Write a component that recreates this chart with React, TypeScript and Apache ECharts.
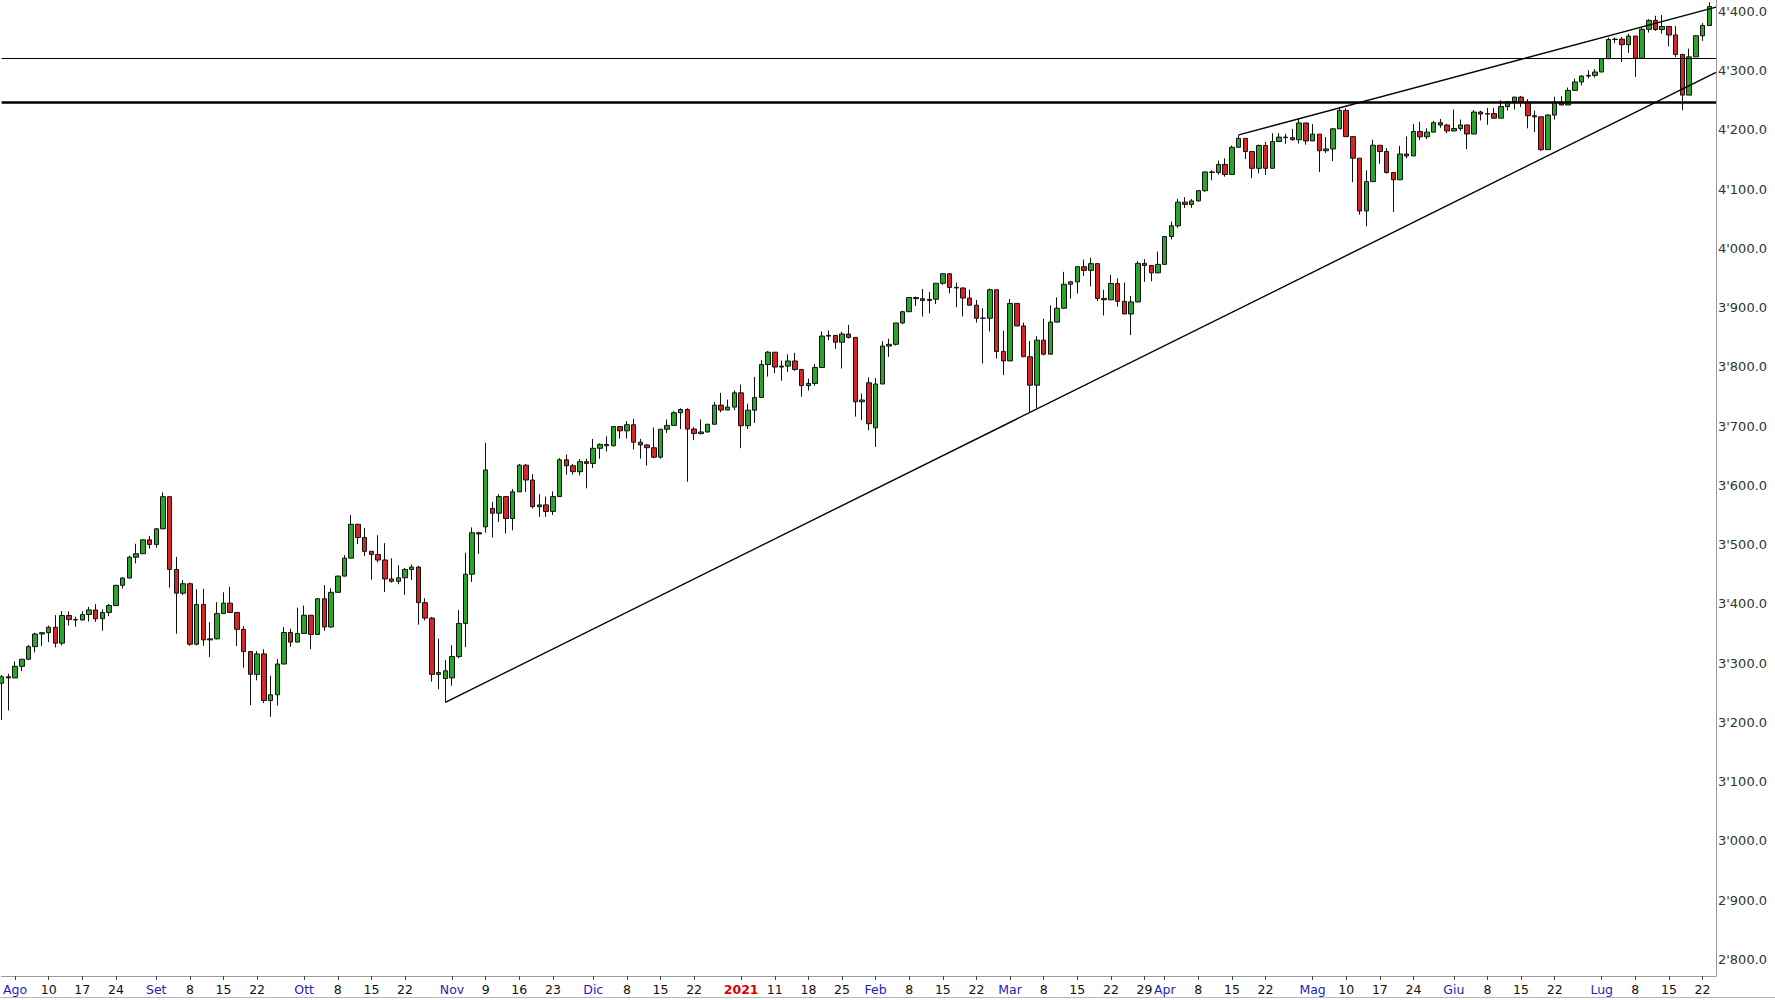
import React, { useEffect, useRef } from "react";
import * as echarts from "echarts";

// trading sessions (vendor series, includes US holiday sessions)
const dates = [
  "2020-07-30","2020-07-31",
  "2020-08-03","2020-08-04","2020-08-05","2020-08-06","2020-08-07","2020-08-10","2020-08-11","2020-08-12","2020-08-13","2020-08-14","2020-08-17","2020-08-18","2020-08-19","2020-08-20","2020-08-21","2020-08-24","2020-08-25","2020-08-26","2020-08-27","2020-08-28","2020-08-31",
  "2020-09-01","2020-09-02","2020-09-03","2020-09-04","2020-09-07","2020-09-08","2020-09-09","2020-09-10","2020-09-11","2020-09-14","2020-09-15","2020-09-16","2020-09-17","2020-09-18","2020-09-21","2020-09-22","2020-09-23","2020-09-24","2020-09-25","2020-09-28","2020-09-29","2020-09-30",
  "2020-10-01","2020-10-02","2020-10-05","2020-10-06","2020-10-07","2020-10-08","2020-10-09","2020-10-12","2020-10-13","2020-10-14","2020-10-15","2020-10-16","2020-10-19","2020-10-20","2020-10-21","2020-10-22","2020-10-23","2020-10-26","2020-10-27","2020-10-28","2020-10-29","2020-10-30",
  "2020-11-02","2020-11-03","2020-11-04","2020-11-05","2020-11-06","2020-11-09","2020-11-10","2020-11-11","2020-11-12","2020-11-13","2020-11-16","2020-11-17","2020-11-18","2020-11-19","2020-11-20","2020-11-23","2020-11-24","2020-11-25","2020-11-26","2020-11-27","2020-11-30",
  "2020-12-01","2020-12-02","2020-12-03","2020-12-04","2020-12-07","2020-12-08","2020-12-09","2020-12-10","2020-12-11","2020-12-14","2020-12-15","2020-12-16","2020-12-17","2020-12-18","2020-12-21","2020-12-22","2020-12-23","2020-12-24","2020-12-28","2020-12-29","2020-12-30","2020-12-31",
  "2021-01-04","2021-01-05","2021-01-06","2021-01-07","2021-01-08","2021-01-11","2021-01-12","2021-01-13","2021-01-14","2021-01-15","2021-01-18","2021-01-19","2021-01-20","2021-01-21","2021-01-22","2021-01-25","2021-01-26","2021-01-27","2021-01-28","2021-01-29",
  "2021-02-01","2021-02-02","2021-02-03","2021-02-04","2021-02-05","2021-02-08","2021-02-09","2021-02-10","2021-02-11","2021-02-12","2021-02-15","2021-02-16","2021-02-17","2021-02-18","2021-02-19","2021-02-22","2021-02-23","2021-02-24","2021-02-25","2021-02-26",
  "2021-03-01","2021-03-02","2021-03-03","2021-03-04","2021-03-05","2021-03-08","2021-03-09","2021-03-10","2021-03-11","2021-03-12","2021-03-15","2021-03-16","2021-03-17","2021-03-18","2021-03-19","2021-03-22","2021-03-23","2021-03-24","2021-03-25","2021-03-26","2021-03-29","2021-03-30","2021-03-31",
  "2021-04-01","2021-04-02","2021-04-05","2021-04-06","2021-04-07","2021-04-08","2021-04-09","2021-04-12","2021-04-13","2021-04-14","2021-04-15","2021-04-16","2021-04-19","2021-04-20","2021-04-21","2021-04-22","2021-04-23","2021-04-26","2021-04-27","2021-04-28","2021-04-29","2021-04-30",
  "2021-05-03","2021-05-04","2021-05-05","2021-05-06","2021-05-07","2021-05-10","2021-05-11","2021-05-12","2021-05-13","2021-05-14","2021-05-17","2021-05-18","2021-05-19","2021-05-20","2021-05-21","2021-05-24","2021-05-25","2021-05-26","2021-05-27","2021-05-28","2021-05-31",
  "2021-06-01","2021-06-02","2021-06-03","2021-06-04","2021-06-07","2021-06-08","2021-06-09","2021-06-10","2021-06-11","2021-06-14","2021-06-15","2021-06-16","2021-06-17","2021-06-18","2021-06-21","2021-06-22","2021-06-23","2021-06-24","2021-06-25","2021-06-28","2021-06-29","2021-06-30",
  "2021-07-01","2021-07-02","2021-07-05","2021-07-06","2021-07-07","2021-07-08","2021-07-09","2021-07-12","2021-07-13","2021-07-14","2021-07-15","2021-07-16","2021-07-19","2021-07-20","2021-07-21","2021-07-22","2021-07-23",
];
const extraCategory = "2021-07-26";

const closes = [
  3277, 3275,
  3294.61, 3306.51, 3327.77, 3349.16, 3351.28, 3360.47, 3333.69, 3380.35, 3373.43, 3372.85, 3381.99, 3389.78, 3374.85, 3385.51, 3397.16, 3431.28, 3443.62, 3478.73, 3484.55, 3508.01, 3500.31,
  3526.65, 3580.84, 3458, 3418, 3434, 3331.84, 3398.96, 3339.19, 3340.97, 3383.54, 3401.2, 3385.49, 3357.01, 3319.47, 3281.06, 3315.57, 3236.92, 3246.59, 3298.46, 3351.6, 3335.47, 3350,
  3380.8, 3348.42, 3408.6, 3360.97, 3419.44, 3446.83, 3477.14, 3534.22, 3511.93, 3488.67, 3483.34, 3474, 3442, 3438, 3444, 3458, 3462, 3402, 3376, 3281, 3284, 3287,
  3311, 3367, 3450, 3520, 3518, 3626, 3553, 3581, 3544, 3589, 3634, 3609, 3564, 3567, 3556, 3581, 3643, 3633, 3623, 3640, 3637,
  3662.45, 3669.01, 3666.72, 3699.12, 3691.96, 3702.25, 3672.82, 3668.1, 3663.46, 3647.49, 3694.62, 3701.17, 3722.48, 3728, 3694.92, 3687.26, 3690.01, 3703.06, 3735.36, 3727.04, 3732.04, 3756.07,
  3700.65, 3726.86, 3748.14, 3803.79, 3824.68, 3799.61, 3801.19, 3809.84, 3795.54, 3768.25, 3772, 3798.91, 3851.85, 3853.07, 3841.47, 3855.36, 3849.62, 3741, 3744, 3704,
  3771, 3835, 3838, 3874, 3893, 3917, 3915, 3912, 3914, 3941, 3957, 3934, 3933, 3916, 3904, 3882, 3882, 3930, 3826, 3810,
  3907, 3869, 3817, 3769, 3845, 3821.35, 3875.44, 3898.81, 3939.34, 3943.34, 3968.94, 3962.71, 3974.12, 3915.46, 3913.1, 3940.59, 3910.52, 3889.14, 3909.52, 3974.54, 3971.09, 3958.55, 3972.89,
  4019.87, 4038, 4077.91, 4073.94, 4079.95, 4097.17, 4128.8, 4127.99, 4141.59, 4124.66, 4170.42, 4185.47, 4163.26, 4134.94, 4173.42, 4134.98, 4180.17, 4187.62, 4186.72, 4183.18, 4211.47, 4181.17,
  4192.66, 4164.66, 4167.59, 4201.62, 4232.6, 4188.43, 4152.1, 4063.04, 4112.5, 4173.85, 4163.29, 4127.83, 4115.68, 4159.12, 4155.86, 4197.05, 4188.13, 4195.99, 4212, 4208, 4198,
  4202.04, 4208.12, 4192.85, 4229.89, 4226.52, 4227.26, 4219.55, 4239.18, 4247.44, 4255.15, 4246.59, 4223.7, 4221.86, 4166.45, 4224.79, 4246.44, 4241.84, 4266.49, 4280.7, 4290.61, 4291.8, 4297.5,
  4319.94, 4352.34, 4353, 4343.54, 4358.13, 4320.82, 4369.55, 4384.63, 4369.21, 4374.3, 4360.03, 4327.16, 4258.49, 4323.06, 4358.69, 4376, 4408,
];

const opens = [
  3266, 3277,
  3275, 3294.61, 3306.51, 3327.77, 3349.16, 3351.28, 3360.47, 3333.69, 3380.35, 3373.43, 3372.85, 3381.99, 3389.78, 3374.85, 3385.51, 3397.16, 3431.28, 3443.62, 3478.73, 3484.55, 3508.01,
  3500.31, 3526.65, 3580.84, 3458, 3418, 3434, 3331.84, 3398.96, 3339.19, 3340.97, 3383.54, 3401.2, 3385.49, 3357.01, 3319.47, 3281.06, 3315.57, 3236.92, 3246.59, 3298.46, 3351.6, 3335.47,
  3350, 3380.8, 3348.42, 3408.6, 3360.97, 3419.44, 3446.83, 3477.14, 3534.22, 3511.93, 3488.67, 3483.34, 3474, 3442, 3438, 3444, 3458, 3462, 3402, 3376, 3281, 3274,
  3275, 3311, 3367, 3450, 3520, 3530, 3561, 3553, 3581, 3544, 3589, 3634, 3609, 3564, 3567, 3556, 3581, 3643, 3633, 3623, 3640,
  3637, 3662.45, 3669.01, 3666.72, 3699.12, 3691.96, 3702.25, 3672.82, 3668.1, 3663.46, 3647.49, 3694.62, 3701.17, 3722.48, 3728, 3694.92, 3687.26, 3690.01, 3703.06, 3735.36, 3727.04, 3732.04,
  3756.07, 3700.65, 3726.86, 3748.14, 3803.79, 3824.68, 3799.61, 3801.19, 3809.84, 3795.54, 3768.25, 3772, 3798.91, 3851.85, 3853.07, 3841.47, 3855.36, 3849.62, 3741, 3773,
  3697, 3771, 3835, 3838, 3874, 3893, 3917, 3915, 3912, 3914, 3941, 3957, 3934, 3933, 3916, 3904, 3882, 3882, 3930, 3826,
  3810, 3907, 3869, 3817, 3769, 3845, 3821.35, 3875.44, 3898.81, 3939.34, 3943.34, 3968.94, 3962.71, 3974.12, 3915.46, 3913.1, 3940.59, 3910.52, 3889.14, 3909.52, 3974.54, 3971.09, 3958.55,
  3972.89, 4019.87, 4038, 4077.91, 4073.94, 4079.95, 4097.17, 4128.8, 4127.99, 4141.59, 4124.66, 4170.42, 4185.47, 4163.26, 4134.94, 4173.42, 4134.98, 4180.17, 4187.62, 4186.72, 4183.18, 4211.47,
  4181.17, 4192.66, 4164.66, 4167.59, 4201.62, 4232.6, 4188.43, 4152.1, 4063.04, 4112.5, 4173.85, 4163.29, 4127.83, 4115.68, 4159.12, 4155.86, 4197.05, 4188.13, 4195.99, 4212, 4208,
  4198, 4202.04, 4208.12, 4192.85, 4229.89, 4226.52, 4227.26, 4219.55, 4239.18, 4247.44, 4255.15, 4246.59, 4223.7, 4221.86, 4166.45, 4224.79, 4246.44, 4241.84, 4266.49, 4280.7, 4290.61, 4291.8,
  4297.5, 4319.94, 4352.34, 4353, 4343.54, 4358.13, 4320.82, 4369.55, 4384.63, 4369.21, 4374.3, 4360.03, 4327.16, 4258.49, 4323.06, 4358.69, 4376,
];

const highs = [
  3280, 3282,
  3302.73, 3306.84, 3330.77, 3351.03, 3352.54, 3363.29, 3381.01, 3387.89, 3387.24, 3378.51, 3387.59, 3395.06, 3399.54, 3390.8, 3399.96, 3432.09, 3444.21, 3481.07, 3501.38, 3509.23, 3514.77,
  3528.03, 3588.11, 3580.84, 3479.15, 3440, 3436, 3424.77, 3425.55, 3368.95, 3402.93, 3419.48, 3428.92, 3385.49, 3362.27, 3320, 3320.31, 3323.35, 3278.7, 3306.88, 3360.74, 3357.92, 3393.56,
  3397.18, 3381, 3409.57, 3431.56, 3426.26, 3447.28, 3482.34, 3549.85, 3535, 3527.94, 3489.08, 3515.76, 3502.42, 3476.93, 3464.86, 3460.53, 3466.46, 3464, 3409.51, 3378, 3341.05, 3304.93,
  3330.14, 3389.49, 3486.25, 3529.05, 3521.58, 3672, 3572, 3585, 3581, 3593.66, 3636, 3636, 3619.09, 3585.22, 3581.23, 3589.81, 3646, 3652, 3636, 3644.31, 3645,
  3678.45, 3671, 3682.73, 3699.2, 3700, 3708.45, 3712.39, 3678.49, 3670, 3697.61, 3695.29, 3711.27, 3725.12, 3730, 3730, 3698.26, 3711.24, 3703.82, 3740.51, 3756.12, 3744.63, 3760.2,
  3769.99, 3737.83, 3783.04, 3811.55, 3826.69, 3824.68, 3810.78, 3820.96, 3823.6, 3795.54, 3780, 3804.53, 3859.75, 3861.45, 3853.07, 3859.23, 3870.9, 3849.62, 3755, 3782,
  3781, 3843.09, 3847.51, 3872.42, 3894.56, 3915.77, 3918.35, 3931.5, 3925.99, 3937.23, 3958, 3958, 3942, 3934, 3930.41, 3913, 3899, 3932, 3930, 3861.08,
  3914.5, 3906.41, 3874.47, 3843.67, 3851.69, 3881.06, 3903.76, 3917.35, 3960.27, 3944.99, 3970.08, 3981.04, 3983.87, 3974, 3930.12, 3955.31, 3949.13, 3942.08, 3919.54, 3978.19, 3981.83, 3971.09, 3994.41,
  4020.63, 4045, 4083.42, 4086.23, 4083.13, 4098.19, 4129.48, 4131.76, 4148, 4151.69, 4173.49, 4191.31, 4185.47, 4163.26, 4175.02, 4179.57, 4194.17, 4194.19, 4193.35, 4201.53, 4218.78, 4211.47,
  4209.39, 4192.66, 4187.72, 4202.7, 4238.04, 4236.39, 4188.43, 4152.1, 4131.58, 4183.13, 4173.85, 4169.15, 4127.83, 4172.8, 4188.72, 4209.52, 4213.42, 4202.61, 4215, 4218.36, 4210,
  4234.12, 4217.37, 4208.12, 4233.45, 4232.34, 4236.74, 4237.09, 4249.74, 4248.38, 4255.59, 4257.16, 4251.89, 4232.29, 4221.86, 4226.24, 4255.84, 4256.6, 4271.28, 4286.12, 4292.14, 4300.52, 4302.43,
  4320.66, 4355.43, 4356, 4356.46, 4361.88, 4358.13, 4371.6, 4386.68, 4392.37, 4393.68, 4374.3, 4375.09, 4327.16, 4336.84, 4359.7, 4380, 4415.18,
];

const lows = [
  3204, 3220,
  3284.53, 3286.37, 3306, 3318.14, 3328.72, 3335.44, 3326.44, 3330, 3363.35, 3361.64, 3372, 3370.15, 3369.66, 3354.69, 3379.31, 3396, 3425.84, 3443, 3468.35, 3484.32, 3493.25,
  3494.6, 3526, 3427.41, 3349.63, 3415, 3329.27, 3330, 3329.25, 3310.47, 3340, 3383, 3384.45, 3328.82, 3292.4, 3229.1, 3270.95, 3232.57, 3209.45, 3228.44, 3298, 3327.54, 3335,
  3361.39, 3323.69, 3348, 3354.54, 3360, 3419, 3446, 3477, 3500.86, 3480.55, 3440.89, 3470, 3419.93, 3435.65, 3433.06, 3415.34, 3440.45, 3364.86, 3372, 3268.89, 3256, 3233.94,
  3262, 3308, 3327, 3437, 3484.34, 3520, 3512, 3538, 3518.58, 3524, 3589, 3589, 3561, 3547, 3547, 3550, 3581, 3617.76, 3618, 3617, 3595,
  3629, 3644.84, 3657.17, 3666, 3678.88, 3678.83, 3660.54, 3645.18, 3633.4, 3645.84, 3645, 3688.57, 3701, 3695, 3606, 3676.16, 3686, 3689.32, 3703, 3723.31, 3727, 3726.88,
  3662.71, 3695.07, 3705.34, 3748, 3783.6, 3789.02, 3776.51, 3791.5, 3792.86, 3749.62, 3760, 3768, 3798, 3845.05, 3830.41, 3797.16, 3847.78, 3716, 3710, 3693,
  3665, 3771, 3816.68, 3836, 3872, 3892.59, 3902.64, 3884.94, 3890.39, 3905.78, 3938, 3923.85, 3900.43, 3885.03, 3903.07, 3874.71, 3805.59, 3859.6, 3814.04, 3786,
  3810, 3868.57, 3818.86, 3723.34, 3730.19, 3819.25, 3821, 3875, 3898, 3915.21, 3923.54, 3953.44, 3935.74, 3910.86, 3886.75, 3913, 3901.57, 3889.07, 3853.5, 3909, 3943.25, 3944.35, 3958,
  3972, 4015, 4034.44, 4068.14, 4068.31, 4079, 4095.51, 4114.82, 4124.43, 4120.87, 4124, 4170.42, 4150.47, 4118.38, 4126.35, 4123.69, 4134.98, 4180, 4176.22, 4181.78, 4176.81, 4174.85,
  4181, 4128.59, 4160.94, 4147.33, 4201.62, 4188.13, 4111.53, 4056.88, 4037, 4112.5, 4142.69, 4125.99, 4061.41, 4115.68, 4151.72, 4155.86, 4182.52, 4184.11, 4195.99, 4203.57, 4194,
  4197.59, 4198.27, 4167.21, 4192.85, 4215.66, 4208.41, 4218.74, 4219.55, 4232.25, 4234.07, 4238.35, 4202.45, 4196.05, 4164.4, 4166.45, 4217.27, 4241.43, 4241.84, 4266.49, 4274.67, 4287.04, 4287.96,
  4297.5, 4319.94, 4346, 4314.37, 4329.79, 4289.37, 4320.82, 4364.03, 4366.92, 4362.36, 4340.7, 4322.53, 4233.13, 4258.49, 4323.06, 4350.06, 4376,
];

// x-axis tick labels
const tickDates = [
  "2020-08-03","2020-08-10","2020-08-17","2020-08-24","2020-09-01","2020-09-08","2020-09-15","2020-09-22",
  "2020-10-01","2020-10-08","2020-10-15","2020-10-22","2020-11-02","2020-11-09","2020-11-16","2020-11-23",
  "2020-12-01","2020-12-08","2020-12-15","2020-12-22","2021-01-04","2021-01-11","2021-01-18","2021-01-25",
  "2021-02-01","2021-02-08","2021-02-15","2021-02-22","2021-03-01","2021-03-08","2021-03-15","2021-03-22","2021-03-29",
  "2021-04-01","2021-04-08","2021-04-15","2021-04-22","2021-05-03","2021-05-10","2021-05-17","2021-05-24",
  "2021-06-01","2021-06-08","2021-06-15","2021-06-22","2021-07-01","2021-07-08","2021-07-15","2021-07-22",
];
const tickTexts = [
  "Ago","10","17","24","Set","8","15","22",
  "Ott","8","15","22","Nov","9","16","23",
  "Dic","8","15","22","2021","11","18","25",
  "Feb","8","15","22","Mar","8","15","22","29",
  "Apr","8","15","22","Mag","10","17","24",
  "Giu","8","15","22","Lug","8","15","22",
];
const monthNames = ["Ago","Set","Ott","Nov","Dic","Feb","Mar","Apr","Mag","Giu","Lug"];
const yearNames = ["2021"];

// y-axis ticks
const yTicks = [2800, 2900, 3000, 3100, 3200, 3300, 3400, 3500, 3600, 3700, 3800, 3900, 4000, 4100, 4200, 4300, 4400];
const yMin = 2772;
const yMax = 4419;

// drawn horizontal levels and trend lines
const levelThin = 4320;
const levelThick = 4246;
const supportLine = [["2020-10-30", 3233.94], [extraCategory, 4297]];
const resistanceLine = [["2021-04-16", 4191.31], [extraCategory, 4407]];

const FONT = "DejaVu Sans";

function fmtY(v: number) {
  const s = v.toFixed(1);
  const [i, d] = s.split(".");
  return i.replace(/\B(?=(\d{3})+(?!\d))/g, "'") + "." + d;
}

export default function App() {
  const ref = useRef<HTMLDivElement>(null);
  useEffect(() => {
    if (!ref.current) return;
    const chart = echarts.init(ref.current, undefined, { renderer: "svg" });
    const tickMap: Record<string, string> = {};
    tickDates.forEach((d, i) => (tickMap[d] = tickTexts[i]));
    const categories = [...dates, extraCategory];
    const candleData = dates.map((_, i) => {
      const o = opens[i];
      const c = closes[i];
      const h = Math.max(highs[i], o, c);
      const l = Math.min(lows[i], o, c);
      return [o, c, l, h];
    });
    const showTick = (_idx: number, value: string) => tickMap[value] !== undefined;
    chart.setOption({
      animation: false,
      backgroundColor: "#ffffff",
      grid: { left: 0, right: 59, top: 0, bottom: 24, containLabel: false },
      graphic: [
        {
          type: "line",
          shape: { x1: 0, y1: 997.5, x2: 1775, y2: 997.5 },
          style: { stroke: "#b8b8b8", lineWidth: 1 },
          silent: true,
        },
      ],
      xAxis: {
        type: "category",
        data: categories,
        boundaryGap: false,
        axisLine: { show: true, lineStyle: { color: "#9a9a9a", width: 1 } },
        axisTick: { show: true, interval: showTick, length: 4, lineStyle: { color: "#444" } },
        axisLabel: {
          show: true,
          interval: showTick,
          margin: 7,
          fontFamily: FONT,
          fontSize: 12.5,
          formatter: (value: string) => {
            const t = tickMap[value];
            if (t === undefined) return "";
            if (yearNames.includes(t)) return "{y|" + t + "}";
            if (monthNames.includes(t)) return "{m|" + t + "}";
            return "{d|" + t + "}";
          },
          rich: {
            m: { color: "#1e1eb4", fontFamily: FONT, fontSize: 12.5 },
            y: { color: "#e00000", fontFamily: FONT, fontSize: 12.5, fontWeight: "bold" },
            d: { color: "#111111", fontFamily: FONT, fontSize: 12.5 },
          },
        },
        splitLine: { show: false },
      },
      yAxis: {
        type: "value",
        position: "right",
        min: yMin,
        max: yMax,
        scale: true,
        splitLine: { show: false },
        axisLine: { show: true, lineStyle: { color: "#9a9a9a", width: 1 } },
        axisTick: { show: false, customValues: yTicks },
        axisLabel: {
          show: true,
          customValues: yTicks,
          margin: 2,
          fontFamily: FONT,
          fontSize: 13,
          color: "#333333",
          formatter: (v: number) => fmtY(v),
        },
      },
      series: [
        {
          type: "candlestick",
          data: candleData,
          barWidth: 5,
          itemStyle: {
            color: "#2aa52a",
            color0: "#d42626",
            borderColor: "#111111",
            borderColor0: "#111111",
            borderWidth: 1,
          },
          emphasis: { disabled: true },
          markLine: {
            silent: true,
            symbol: ["none", "none"],
            label: { show: false },
            emphasis: { disabled: true },
            lineStyle: { color: "#000000", type: "solid", width: 1.4 },
            data: [
              { yAxis: levelThin, lineStyle: { color: "#000", width: 1, type: "solid" } },
              { yAxis: levelThick, lineStyle: { color: "#000", width: 2.5, type: "solid" } },
              [
                { coord: supportLine[0] },
                { coord: supportLine[1] },
              ],
              [
                { coord: resistanceLine[0] },
                { coord: resistanceLine[1] },
              ],
            ],
          },
        },
      ],
    });
    return () => chart.dispose();
  }, []);
  return (
    <div
      ref={ref}
      style={{ position: "absolute", left: 0, top: 0, width: 1775, height: 1000, background: "#fff" }}
    />
  );
}
